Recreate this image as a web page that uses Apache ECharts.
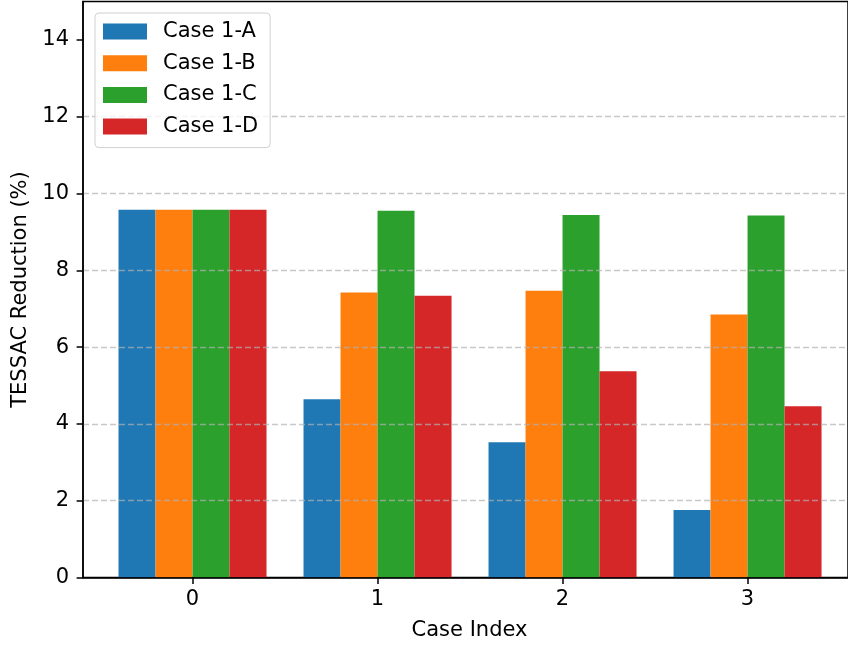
<!DOCTYPE html>
<html>
<head>
<meta charset="utf-8">
<script src="https://cdn.jsdelivr.net/npm/echarts@6/dist/echarts.min.js"></script>
<style>
html,body{margin:0;padding:0;background:#fff;}
#c{width:848px;height:646px;}
</style>
</head>
<body>
<div id="c"></div>
<script>
const caseIndex = [0, 1, 2, 3];
const seriesNames = ['Case 1-A', 'Case 1-B', 'Case 1-C', 'Case 1-D'];
const caseA = [9.58, 4.64, 3.52, 1.76];
const caseB = [9.58, 7.42, 7.47, 6.85];
const caseC = [9.58, 9.55, 9.44, 9.43];
const caseD = [9.58, 7.34, 5.37, 4.46];
const yTicks = [0, 2, 4, 6, 8, 10, 12, 14];
const xTicks = [0, 1, 2, 3];

const colors = ['#1f77b4', '#ff7f0e', '#2ca02c', '#d62728'];
const values = [caseA, caseB, caseC, caseD];
const FONT = 'DejaVu Sans';
const FS = 21;

const chart = echarts.init(document.getElementById('c'), null, {renderer: 'canvas'});
chart.setOption({
  animation: false,
  color: colors,
  textStyle: {fontFamily: FONT},
  grid: {left: 83, top: 1.5, right: 0, height: 577.2, show: true, borderColor: '#000', borderWidth: 1.5, backgroundColor: 'transparent'},
  legend: {
    left: 95, top: 13,
    orient: 'vertical',
    icon: 'rect',
    itemWidth: 44, itemHeight: 16, itemGap: 10.7,
    padding: [8, 12, 10.5, 8],
    backgroundColor: 'rgba(255,255,255,0.8)',
    borderColor: '#d0d0d0', borderWidth: 1, borderRadius: 4,
    textStyle: {fontFamily: FONT, fontSize: FS, color: '#000', lineHeight: 21, padding: [0, 0, 0, 11]},
    data: seriesNames
  },
  xAxis: {
    type: 'value', min: -0.592, max: 3.543,
    z: 5,
    name: 'Case Index', nameLocation: 'middle', nameGap: 42.5,
    nameTextStyle: {fontFamily: FONT, fontSize: FS, color: '#000', padding: [0, 0, 0, 8]},
    axisLine: {show: true, onZero: false, lineStyle: {color: '#000', width: 1.5}},
    axisTick: {show: true, customValues: xTicks, length: 6.4, lineStyle: {color: '#000', width: 1.5}},
    axisLabel: {customValues: xTicks, margin: 12, fontFamily: FONT, fontSize: FS, color: '#000'},
    splitLine: {show: false}
  },
  yAxis: {
    type: 'value', min: 0, max: 15, interval: 2,
    z: 3,
    name: 'TESSAC Reduction (%)', nameLocation: 'middle', nameGap: 50.5,
    nameTextStyle: {fontFamily: FONT, fontSize: FS, color: '#000'},
    axisLine: {show: true, onZero: false, lineStyle: {color: '#000', width: 1.5}},
    axisTick: {show: true, customValues: yTicks, length: 6.4, lineStyle: {color: '#000', width: 1.5}},
    axisLabel: {customValues: yTicks, margin: 14, fontFamily: FONT, fontSize: FS, color: '#000'},
    splitLine: {show: true, showMinLine: false, showMaxLine: false, lineStyle: {color: 'rgba(176,176,176,0.7)', width: 1.3, type: [6, 3]}}
  },
  series: seriesNames.map((n, i) => ({
    name: n,
    type: 'bar',
    barGap: '0%',
    barCategoryGap: '20%',
    z: 1,
    itemStyle: {color: colors[i]},
    data: caseIndex.map((x, j) => [x, values[i][j]])
  }))
});
</script>
</body>
</html>
